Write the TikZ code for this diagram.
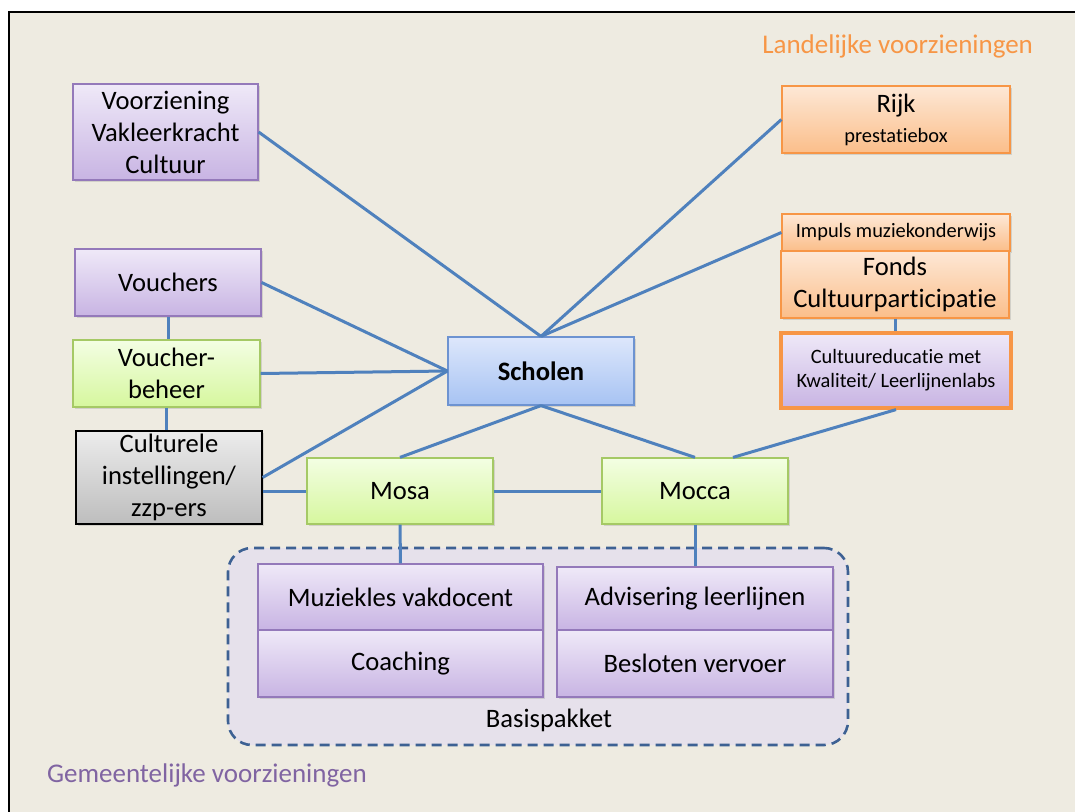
\documentclass[tikz,border=0pt]{standalone}
\usepackage{fontspec}
\setmainfont{Carlito}[Ligatures=NoCommon]
\usetikzlibrary{shadows}

\definecolor{achtergrond}{HTML}{EEEBE1}
\definecolor{lijnblauw}{HTML}{4F81BD}
\definecolor{paarsrand}{HTML}{9479BA}
\definecolor{paarsboven}{HTML}{EFE9F8}
\definecolor{paarsonder}{HTML}{C8B4E3}
\definecolor{oranjerand}{HTML}{F79646}
\definecolor{oranjeboven}{HTML}{FDE8D6}
\definecolor{oranjeonder}{HTML}{FBBE8A}
\definecolor{groenrand}{HTML}{A5C965}
\definecolor{groenboven}{HTML}{F3FEE3}
\definecolor{groenonder}{HTML}{D6F79E}
\definecolor{grijsboven}{HTML}{ECECEC}
\definecolor{grijsonder}{HTML}{BDBDBD}
\definecolor{blauwrand}{HTML}{6D93D1}
\definecolor{blauwboven}{HTML}{DDE7FB}
\definecolor{blauwonder}{HTML}{A7C3F3}
\definecolor{pakketrand}{HTML}{3D6193}
\definecolor{pakketvul}{HTML}{E6E1EB}
\definecolor{gemeentepaars}{HTML}{8064A2}

\tikzset{
  blok/.style={draw, line width=0.6pt, align=center, inner sep=1pt,
    font=\fontsize{13.3}{16}\selectfont,
    drop shadow={shadow xshift=1pt, shadow yshift=-1pt, opacity=0.25}},
  paars/.style={blok, draw=paarsrand, top color=paarsboven, bottom color=paarsonder},
  oranje/.style={blok, draw=oranjerand, top color=oranjeboven, bottom color=oranjeonder},
  groen/.style={blok, draw=groenrand, top color=groenboven, bottom color=groenonder},
  grijs/.style={blok, draw=black, top color=grijsboven, bottom color=grijsonder},
  blauw/.style={blok, draw=blauwrand, top color=blauwboven, bottom color=blauwonder},
  klein/.style={font=\fontsize{10.2}{12}\selectfont},
  lijn/.style={draw=lijnblauw, line width=1.5pt},
  pakket/.style={draw=pakketrand, fill=pakketvul, line width=1.3pt,
    dash pattern=on 5pt off 3pt, rounded corners=12pt},
}

\begin{document}
\begin{tikzpicture}[x=0.5pt, y=-0.5pt]
  \useasboundingbox (0,0) rectangle (1075,812);
  \fill[white] (0,0) rectangle (1075,812);
  \fill[achtergrond] (9,12) rectangle (1075,812);
  \draw[line width=1.2pt] (9,812) -- (9,12) -- (1075,12);

  \node[font=\fontsize{13.5}{16}\selectfont, text=oranjerand, anchor=east] (landelijk) at (1040,46) {Landelijke voorzieningen};
  \node[font=\fontsize{13.5}{16}\selectfont, text=gemeentepaars, anchor=west] (gemeentelijk) at (40,775) {Gemeentelijke voorzieningen};

  % basispakket
  \node[pakket, minimum width=310pt, minimum height=98.5pt] (pakket) at (538,646.5) {};
  \node[font=\fontsize{13.3}{16}\selectfont] (basislabel) at (549,720) {Basispakket};

  \node[paars, minimum width=92.5pt, minimum height=48pt] (voorziening) at (165.5,132) {Voorziening\\Vakleerkracht\\Cultuur};
  \node[paars, minimum width=93pt, minimum height=33.5pt] (vouchers) at (168,282.5) {Vouchers};
  \node[groen, minimum width=93.5pt, minimum height=33.5pt] (voucherbeheer) at (166.5,373.5) {Voucher-\\beheer};
  \node[grijs, minimum width=93pt, minimum height=46.5pt] (culturele) at (169,477.5) {Culturele\\instellingen/\\zzp-ers};

  \node[blauw, minimum width=93pt, minimum height=34pt, font=\fontsize{13.3}{16}\selectfont\bfseries] (scholen) at (541,371) {Scholen};
  \node[groen, minimum width=93pt, minimum height=33pt] (mosa) at (400,491) {Mosa};
  \node[groen, minimum width=93pt, minimum height=33pt] (mocca) at (695,491) {Mocca};

  \node[oranje, minimum width=114pt, minimum height=33.5pt] (rijk) at (896,119.5) {Rijk\\[-1pt]{\fontsize{10.2}{12}\selectfont prestatiebox}};
  \node[oranje, klein, minimum width=114pt, minimum height=18.5pt] (impuls) at (896,232.5) {Impuls muziekonderwijs};
  \node[oranje, minimum width=114pt, minimum height=33.5pt] (fonds) at (895,284.5) {Fonds\\Cultuurparticipatie};
  \node[paars, klein, draw=oranjerand, line width=1.6pt, minimum width=115pt, minimum height=37.5pt] (cultuureducatie) at (896,370.5) {Cultuureducatie met\\Kwaliteit/ Leerlijnenlabs};

  \node[paars, minimum width=142.5pt, minimum height=33pt] (muziekles) at (400.5,597) {Muziekles vakdocent};
  \node[paars, minimum width=142.5pt, minimum height=33.5pt] (coaching) at (400.5,663.5) {Coaching};
  \node[paars, minimum width=138pt, minimum height=31.5pt] (advisering) at (695,598.5) {Advisering leerlijnen};
  \node[paars, minimum width=138pt, minimum height=33.5pt] (besloten) at (695,663.5) {Besloten vervoer};

  \draw[lijn] (voorziening.east) to (scholen.north);
  \draw[lijn] (rijk.west) to (scholen.north);
  \draw[lijn] (impuls.west) to (scholen.north);
  \draw[lijn] (vouchers.east) to (scholen.west);
  \draw[lijn] (voucherbeheer.east) to (scholen.west);
  \draw[lijn] (culturele.east) to (scholen.west);
  \draw[lijn] (culturele.east |- mosa.west) to (mosa.west);
  \draw[lijn] (vouchers.south) to (voucherbeheer.north -| vouchers.south);
  \draw[lijn] (voucherbeheer.south) to (culturele.north -| voucherbeheer.south);
  \draw[lijn] (fonds.south) to (cultuureducatie.north -| fonds.south);
  \draw[lijn] (scholen.south) to (mosa.north);
  \draw[lijn] (scholen.south) to (mocca.north);
  \draw[lijn] (cultuureducatie.south) to ([xshift=19pt]mocca.north);
  \draw[lijn] (mosa.east) to (mocca.west);
  \draw[lijn] (mosa.south) to (muziekles.north);
  \draw[lijn] (mocca.south) to (advisering.north);
\end{tikzpicture}
\end{document}
